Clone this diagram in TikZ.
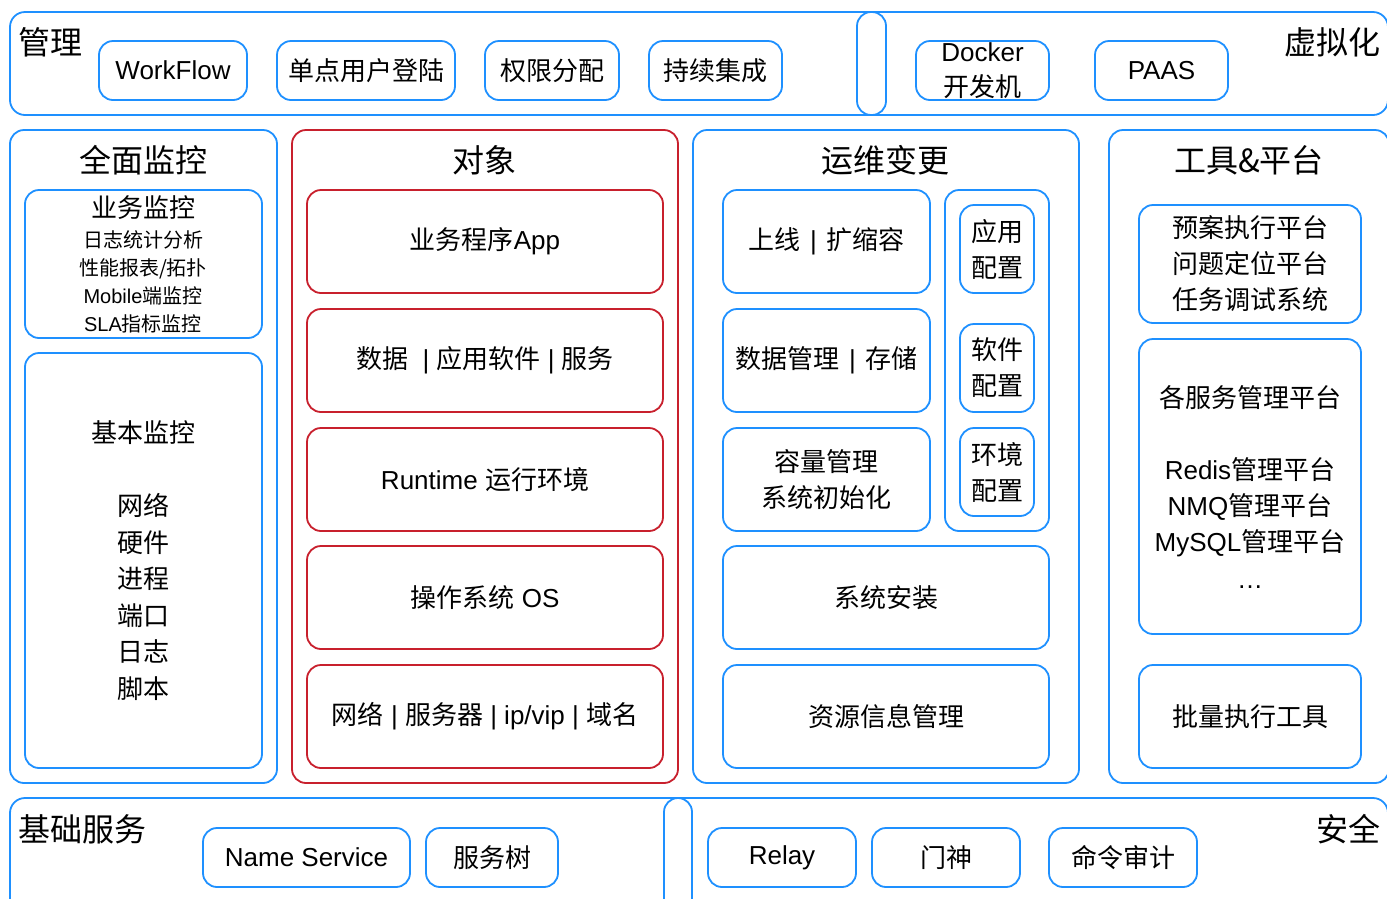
\documentclass[tikz,border=0pt]{standalone}
\usepackage{fontspec}
\setmainfont{Liberation Sans}
\newfontfamily\cjk{Noto Sans CJK SC}
\newcommand\zh[1]{{\cjk #1}}
\newcommand\vbar{\hspace{10pt}|\hspace{10pt}}
\definecolor{mblue}{RGB}{30,144,255}
\definecolor{mred}{RGB}{200,32,45}
\begin{document}
\begin{tikzpicture}[x=1pt,y=-1pt,
  bx/.style={draw=mblue, line width=1.8pt, rounded corners=14pt, inner sep=0pt, align=center, text=black, font=\fontsize{26}{36}\selectfont},
  rbx/.style={bx, draw=mred},
  sz/.style 2 args={minimum width=#1pt, minimum height=#2pt},
  ttl/.style={inner sep=0pt, text=black, font=\fontsize{32}{38}\selectfont},
  lbl/.style={inner sep=0pt, align=center, text=black, font=\fontsize{26}{36}\selectfont},
  small/.style={inner sep=0pt, align=center, text=black, font=\fontsize{20}{28}\selectfont}]
\useasboundingbox (0,0) rectangle (1387,898);
\clip (0,0) rectangle (1387,898);

% ---------- top bar ----------
\node[bx, sz={1378}{103}, rounded corners=15pt] (top) at (699,63.5) {};
\node[bx, sz={29}{103}] (toppill) at (871.5,63.5) {};
\node[ttl] (tmgmt) at (50,42) {\zh{管理}};
\node[ttl] (tvirt) at (1332,42) {\zh{虚拟化}};
\node[bx, sz={148}{59}] (wf) at (173,70.5) {WorkFlow};
\node[bx, sz={178}{59}] (sso) at (366,70.5) {\zh{单点用户登陆}};
\node[bx, sz={134}{59}] (perm) at (552,70.5) {\zh{权限分配}};
\node[bx, sz={133}{59}] (ci) at (715.5,70.5) {\zh{持续集成}};
\node[bx, sz={133}{59}, font=\fontsize{26}{35}\selectfont] (docker) at (982.5,70.5) {Docker\\\zh{开发机}};
\node[bx, sz={133}{59}] (paas) at (1161.5,70.5) {PAAS};

% ---------- column 1 ----------
\node[bx, sz={267}{653}] (c1) at (143.5,456.5) {};
\node[ttl] (c1t) at (143,160) {\zh{全面监控}};
\node[bx, sz={237}{148}] (biz) at (143.5,264) {};
\node[lbl] (bizt) at (143,208) {\zh{业务监控}};
\node[small] (bizl) at (143,282) {\zh{日志统计分析}\\\zh{性能报表/拓扑}\\Mobile\zh{端监控}\\SLA\zh{指标监控}};
\node[bx, sz={237}{415}] (basic) at (143.5,560.5) {};
\node[lbl, font=\fontsize{26}{36.5}\selectfont] (basicl) at (143,560.5) {\zh{基本监控}\\[36.5pt]\zh{网络}\\\zh{硬件}\\\zh{进程}\\\zh{端口}\\\zh{日志}\\\zh{脚本}};

% ---------- column 2 ----------
\node[rbx, sz={386}{653}] (c2) at (485,456.5) {};
\node[ttl] (c2t) at (484,160) {\zh{对象}};
\node[rbx, sz={356}{103}] (o1) at (485,241.5) {\zh{业务程序}App};
\node[rbx, sz={356}{103}] (o2) at (485,360.5) {\zh{数据}\ \ | \zh{应用软件} | \zh{服务}};
\node[rbx, sz={356}{103}] (o3) at (485,479.5) {Runtime \zh{运行环境}};
\node[rbx, sz={356}{103}] (o4) at (485,597.5) {\zh{操作系统} OS};
\node[rbx, sz={356}{103}] (o5) at (485,716.5) {\zh{网络} | \zh{服务器} | ip/vip | \zh{域名}};

% ---------- column 3 ----------
\node[bx, sz={386}{653}] (c3) at (886,456.5) {};
\node[ttl] (c3t) at (885,160) {\zh{运维变更}};
\node[bx, sz={207}{103}] (ops1) at (826.5,241.5) {\zh{上线}\vbar\zh{扩缩容}};
\node[bx, sz={207}{103}] (ops2) at (826.5,360.5) {\zh{数据管理}\vbar\zh{存储}};
\node[bx, sz={207}{103}] (ops3) at (826.5,479.5) {\zh{容量管理}\\\zh{系统初始化}};
\node[bx, sz={104}{341}] (cfg) at (997,360.5) {};
\node[bx, sz={74}{88}] (cfg1) at (997,249) {\zh{应用}\\\zh{配置}};
\node[bx, sz={74}{88}] (cfg2) at (997,368) {\zh{软件}\\\zh{配置}};
\node[bx, sz={74}{88}] (cfg3) at (997,472) {\zh{环境}\\\zh{配置}};
\node[bx, sz={326}{103}] (inst) at (886,597.5) {\zh{系统安装}};
\node[bx, sz={326}{103}] (res) at (886,716.5) {\zh{资源信息管理}};

% ---------- column 4 ----------
\node[bx, sz={280}{653}] (c4) at (1249,456.5) {};
\node[ttl] (c4t) at (1249,160) {\zh{工具\&平台}};
\node[bx, sz={222}{118}] (plat1) at (1250,264) {\zh{预案执行平台}\\\zh{问题定位平台}\\\zh{任务调试系统}};
\node[bx, sz={222}{295}] (plat2) at (1250,486.5) {};
\node[lbl, font=\fontsize{26}{36.2}\selectfont] (plat2l) at (1250,486.5) {\zh{各服务管理平台}\\[36.2pt]Redis\zh{管理平台}\\NMQ\zh{管理平台}\\MySQL\zh{管理平台}\\\ldots};
\node[bx, sz={222}{103}] (batch) at (1250,716.5) {\zh{批量执行工具}};

% ---------- bottom bar ----------
\node[bx, sz={1378}{122}, rounded corners=15pt] (bot) at (699,859) {};
\node[bx, sz={28}{122}] (botpill) at (678,859) {};
\node[ttl] (tbase) at (83,829) {\zh{基础服务}};
\node[ttl] (tsec) at (1348,829) {\zh{安全}};
\node[bx, sz={207}{59}] (ns) at (306.5,857.5) {Name Service};
\node[bx, sz={132}{59}] (tree) at (492,857.5) {\zh{服务树}};
\node[bx, sz={148}{59}] (relay) at (782,857.5) {Relay};
\node[bx, sz={148}{59}] (gate) at (946,857.5) {\zh{门神}};
\node[bx, sz={148}{59}] (audit) at (1123,857.5) {\zh{命令审计}};
\end{tikzpicture}
\end{document}
